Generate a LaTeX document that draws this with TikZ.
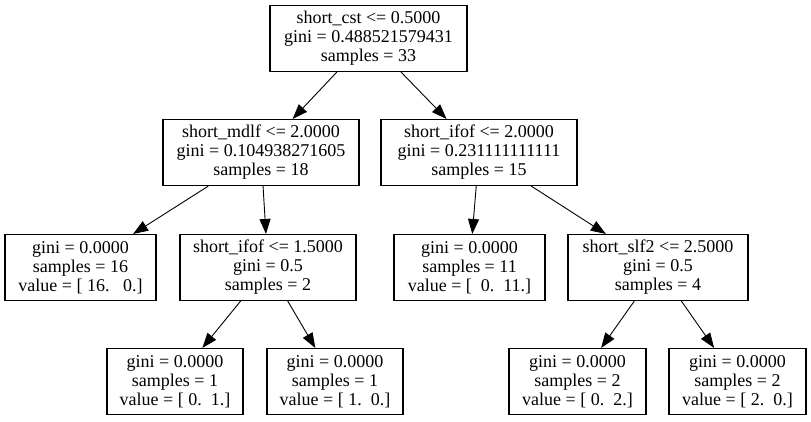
\documentclass[tikz,border=0pt]{standalone}
\usepackage{fontspec}
\setmainfont{Liberation Serif}
\usetikzlibrary{arrows.meta}
\begin{document}
\begin{tikzpicture}[x=1bp,y=-1bp,
  tnode/.style={draw,line width=1.1bp,rectangle,inner sep=0pt,minimum height=66bp,align=center,font=\fontsize{18bp}{19bp}\selectfont},
  edge/.style={draw,line width=0.9bp,-{Triangle[length=15bp,width=11bp]}}]
\useasboundingbox (0,0) rectangle (811,421);
\node[tnode,minimum width=197bp] (root) at (368.5,38.5) {short\_cst <= 0.5000\\gini = 0.488521579431\\samples = 33};
\node[tnode,minimum width=196bp] (mdlf) at (261,152.5) {short\_mdlf <= 2.0000\\gini = 0.104938271605\\samples = 18};
\node[tnode,minimum width=196bp] (ifofR) at (479,152.5) {short\_ifof <= 2.0000\\gini = 0.231111111111\\samples = 15};
\node[tnode,minimum width=151bp] (leafA) at (80.5,267.5) {gini = 0.0000\\samples = 16\\value = [ 16.\ \ \ 0.]};
\node[tnode,minimum width=176bp] (ifofL) at (268,267.5) {short\_ifof <= 1.5000\\gini = 0.5\\samples = 2};
\node[tnode,minimum width=151bp] (leafB) at (469.5,267.5) {gini = 0.0000\\samples = 11\\value = [\ \ 0.\ \ 11.]};
\node[tnode,minimum width=180bp] (slf) at (658,267.5) {short\_slf2 <= 2.5000\\gini = 0.5\\samples = 4};
\node[tnode,minimum width=136bp] (leafC) at (175,381.5) {gini = 0.0000\\samples = 1\\value = [ 0.\ \ 1.]};
\node[tnode,minimum width=136bp] (leafD) at (335,381.5) {gini = 0.0000\\samples = 1\\value = [ 1.\ \ 0.]};
\node[tnode,minimum width=137bp] (leafE) at (577.5,381.5) {gini = 0.0000\\samples = 2\\value = [ 0.\ \ 2.]};
\node[tnode,minimum width=137bp] (leafF) at (737.5,381.5) {gini = 0.0000\\samples = 2\\value = [ 2.\ \ 0.]};
\draw[edge] (root) -- (mdlf);
\draw[edge] (root) -- (ifofR);
\draw[edge] (mdlf) -- (leafA);
\draw[edge] (mdlf) -- (ifofL);
\draw[edge] (ifofR) -- (leafB);
\draw[edge] (ifofR) -- (slf);
\draw[edge] (ifofL) -- (leafC);
\draw[edge] (ifofL) -- (leafD);
\draw[edge] (slf) -- (leafE);
\draw[edge] (slf) -- (leafF);
\end{tikzpicture}
\end{document}
